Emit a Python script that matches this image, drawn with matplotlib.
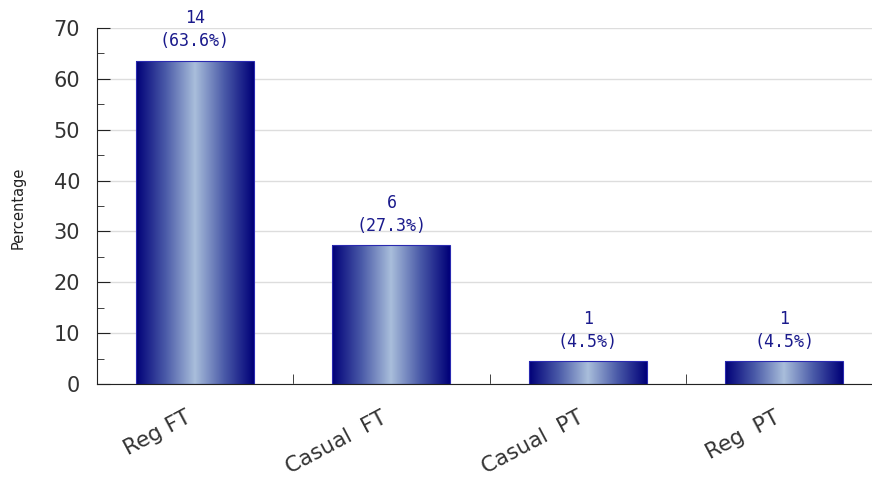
import numpy as np
import matplotlib
matplotlib.use("Agg")
import matplotlib.pyplot as plt
import matplotlib.transforms as mtransforms
from matplotlib.colors import LinearSegmentedColormap
from matplotlib.ticker import MultipleLocator

# Data
categories = ["Reg FT", "Casual  FT", "Casual  PT", "Reg  PT"]
counts = [14, 6, 1, 1]
percent = [63.6, 27.3, 4.5, 4.5]

fig = plt.figure(figsize=(8.72, 4.83), dpi=100)
ax = fig.add_axes([0.111, 0.205, 0.889, 0.737])

x = np.arange(len(categories))
bars = ax.bar(x, percent, width=0.6, color="none", edgecolor="#2a2ab0", linewidth=0.8, zorder=3)

# gradient fill: navy at edges, light steel blue in the middle
cmap = LinearSegmentedColormap.from_list("barglow", ["#000078", "#4a5aa8", "#a9bedb", "#4a5aa8", "#000078"])
grad = np.linspace(0, 1, 256).reshape(1, -1)
for b in bars:
    x0, w, h = b.get_x(), b.get_width(), b.get_height()
    im = ax.imshow(grad, cmap=cmap, aspect="auto", extent=(x0, x0 + w, 0, h), zorder=2)
    im.set_clip_path(b)

for xi, c, p in zip(x, counts, percent):
    ax.text(xi, p + 2.0, f"{c}\n({p}%)", ha="center", va="bottom", color="#1a1a8c",
            family="DejaVu Sans Mono", fontsize=12, linespacing=1.35, zorder=4)

ax.set_xlim(-0.5, -0.5 + 776 / 196.6)
ax.set_ylim(0, 70)
ax.yaxis.set_major_locator(MultipleLocator(10))
ax.yaxis.set_minor_locator(MultipleLocator(5))
ax.grid(axis="y", color="#dddddd", linewidth=1, zorder=0)

ax.set_xticks(x)
ax.set_xticklabels(categories, rotation=28, ha="right", va="baseline", rotation_mode="anchor",
                   fontsize=15.5, color="#333333")
ax.tick_params(axis="x", length=0, pad=27)
shift = mtransforms.ScaledTranslation(-3 / 100, 0, fig.dpi_scale_trans)
for lab in ax.get_xticklabels():
    lab.set_transform(lab.get_transform() + shift)
ax.set_xticks(x[:-1] + 0.5, minor=True)
ax.tick_params(axis="x", which="minor", direction="in", length=7, color="#222222")

ax.tick_params(axis="y", which="major", direction="in", length=9, labelsize=15, labelcolor="#333333",
               color="#222222", pad=12)
ax.tick_params(axis="y", which="minor", direction="in", length=5, color="#222222")

for s in ["top", "right"]:
    ax.spines[s].set_visible(False)
ax.spines["left"].set_color("#222222")
ax.spines["bottom"].set_color("#222222")

fig.text(0.021, 0.57, "Percentage", rotation=90, ha="center", va="center", fontsize=10.5, color="#222222")

fig.savefig("out.png", dpi=100)
